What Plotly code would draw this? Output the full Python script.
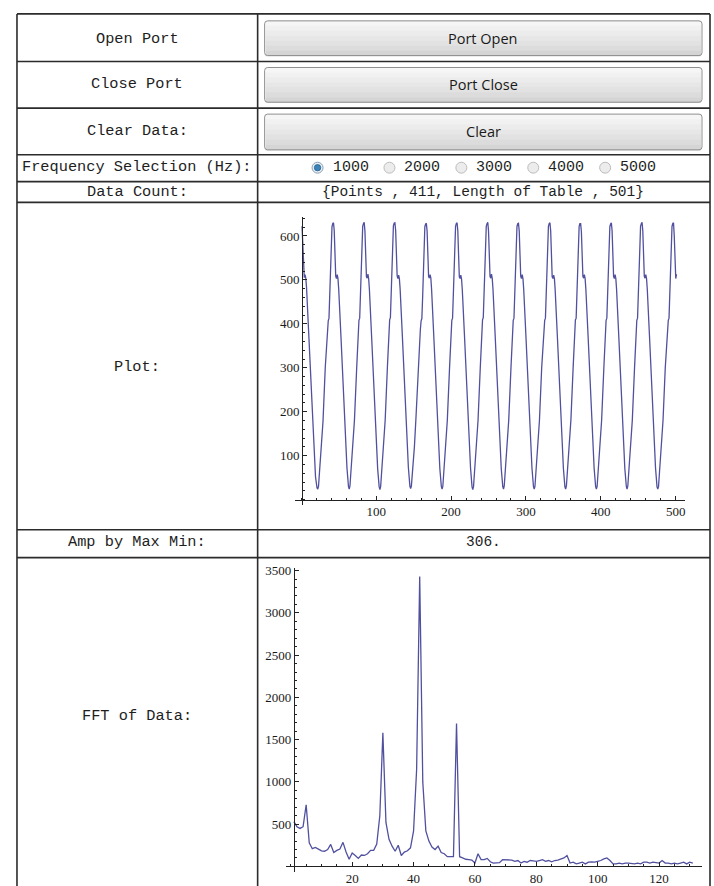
import plotly.graph_objects as go

W, H = 714, 886

# ---------------- data ----------------
row_labels = ["Open Port", "Close Port", "Clear Data:", "Frequency Selection (Hz):",
              "Data Count:", "Plot:", "Amp by Max Min:", "FFT of Data:"]
button_labels = ["Port Open", "Port Close", "Clear"]
freq_options = ["1000", "2000", "3000", "4000", "5000"]
selected_freq = "1000"
data_count_text = "{Points , 411, Length of Table , 501}"
amp_text = "306."

wave_x = [
    1, 2, 3, 4, 5, 6, 7, 9, 13, 17, 19, 21, 22, 23, 25, 27, 29, 32, 35, 36, 37, 38, 39, 40, 41, 42,
    43, 44, 45, 46, 47, 48, 49, 50, 53, 57, 61, 63, 64, 65, 67, 69, 71, 74, 76, 77, 78, 79, 80, 81, 82, 83,
    84, 85, 86, 87, 88, 89, 90, 91, 94, 98, 102, 104, 105, 106, 108, 110, 112, 115, 117, 118, 119, 120, 121, 122, 123, 124,
    125, 126, 127, 128, 129, 130, 131, 132, 135, 139, 143, 145, 146, 147, 149, 151, 153, 156, 159, 160, 161, 162, 163, 164, 165, 166,
    167, 168, 169, 170, 171, 172, 173, 174, 177, 181, 185, 187, 188, 189, 191, 193, 195, 198, 200, 201, 202, 203, 204, 205, 206, 207,
    208, 209, 210, 211, 212, 213, 214, 215, 218, 222, 226, 228, 229, 230, 232, 234, 236, 239, 241, 242, 243, 244, 245, 246, 247, 248,
    249, 250, 251, 252, 253, 254, 255, 256, 259, 263, 267, 269, 270, 271, 273, 275, 277, 280, 282, 283, 284, 285, 286, 287, 288, 289,
    290, 291, 292, 293, 294, 295, 296, 297, 300, 304, 308, 310, 311, 312, 314, 316, 318, 321, 324, 325, 326, 327, 328, 329, 330, 331,
    332, 333, 334, 335, 336, 337, 338, 339, 342, 346, 350, 352, 353, 354, 356, 358, 360, 363, 365, 366, 367, 368, 369, 370, 371, 372,
    373, 374, 375, 376, 377, 378, 379, 380, 383, 387, 391, 393, 394, 395, 397, 399, 401, 404, 406, 407, 408, 409, 410, 411, 412, 413,
    414, 415, 416, 417, 418, 419, 420, 421, 424, 428, 432, 434, 435, 436, 438, 440, 442, 445, 447, 448, 449, 450, 451, 452, 453, 454,
    455, 456, 457, 458, 459, 460, 461, 462, 465, 469, 473, 475, 476, 477, 479, 481, 483, 486, 489, 490, 491, 492, 493, 494, 495, 496,
    497, 498, 499, 500, 501,
]
wave_y = [
    622, 585, 528, 505, 512, 504, 484, 412, 262, 112, 52, 27, 24, 30, 74, 117, 178, 300, 386, 407, 413, 462, 536, 596, 621, 628,
    630, 612, 556, 508, 503, 512, 503, 478, 370, 214, 72, 30, 24, 31, 75, 118, 181, 300, 386, 408, 413, 460, 535, 595, 622, 628,
    631, 611, 554, 507, 504, 513, 502, 477, 368, 216, 70, 29, 23, 30, 76, 117, 180, 302, 384, 409, 414, 461, 536, 596, 623, 629,
    630, 613, 557, 509, 503, 511, 503, 479, 371, 213, 73, 31, 25, 31, 74, 119, 182, 299, 387, 407, 412, 459, 534, 594, 621, 627,
    629, 611, 555, 508, 504, 512, 504, 478, 369, 215, 71, 30, 24, 30, 75, 118, 181, 301, 385, 408, 413, 460, 535, 595, 622, 628,
    630, 612, 556, 507, 503, 511, 502, 477, 370, 214, 72, 29, 23, 30, 76, 118, 180, 300, 386, 409, 414, 461, 536, 596, 622, 628,
    631, 612, 555, 508, 504, 513, 503, 478, 369, 215, 71, 30, 24, 31, 75, 117, 181, 301, 385, 408, 413, 460, 535, 595, 622, 628,
    629, 611, 556, 508, 503, 512, 503, 478, 370, 214, 72, 30, 24, 30, 75, 118, 180, 300, 386, 408, 413, 460, 535, 595, 622, 628,
    630, 612, 555, 507, 503, 511, 503, 477, 369, 215, 71, 29, 24, 31, 76, 118, 181, 301, 385, 409, 413, 461, 536, 596, 622, 628,
    628, 610, 554, 508, 504, 512, 503, 478, 370, 214, 72, 30, 24, 30, 75, 117, 180, 300, 386, 408, 413, 460, 535, 594, 621, 627,
    630, 612, 556, 508, 503, 512, 503, 478, 369, 215, 71, 30, 24, 31, 75, 118, 181, 301, 385, 408, 413, 460, 535, 595, 622, 628,
    631, 612, 555, 508, 504, 512, 503, 478, 370, 214, 72, 29, 24, 30, 75, 118, 180, 300, 386, 408, 413, 460, 535, 596, 622, 628,
    630, 600, 545, 503, 513,
]

fft_x = list(range(1, 132))
fft_y = [
    530, 470, 450, 470, 730, 280, 210, 225, 205, 185,
    180, 200, 260, 165, 190, 205, 285, 170, 85, 160,
    130, 95, 135, 130, 150, 190, 190, 265, 600, 1580,
    520, 320, 240, 180, 250, 130, 170, 185, 220, 420,
    1150, 3430, 1000, 420, 300, 230, 200, 240, 165, 150,
    115, 115, 115, 1690, 115, 100, 85, 80, 75, 40,
    150, 80, 80, 95, 55, 40, 45, 45, 80, 80,
    80, 75, 60, 70, 40, 60, 50, 70, 65, 60,
    70, 80, 60, 70, 55, 70, 75, 90, 100, 130,
    40, 50, 30, 40, 50, 30, 50, 55, 50, 60,
    70, 90, 100, 70, 30, 30, 40, 30, 40, 40,
    35, 30, 40, 30, 50, 50, 40, 50, 45, 40,
    70, 40, 40, 30, 40, 30, 40, 50, 30, 50,
    40,
]

wave_yticks = [100, 200, 300, 400, 500, 600]
wave_xticks = [100, 200, 300, 400, 500]
fft_yticks = [500, 1000, 1500, 2000, 2500, 3000, 3500]
fft_xticks = [20, 40, 60, 80, 100, 120]

# ---------------- helpers (pixel -> paper) ----------------
def px(x):
    return x / W

def py(y):
    return 1 - y / H

LINE = "#2b2b2b"
TRACE = "#50509f"
MONO = "Liberation Mono, Courier New, monospace"

fig = go.Figure()
fig.add_trace(go.Scatter(x=wave_x, y=wave_y, mode="lines",
                         line=dict(color=TRACE, width=1.3),
                         xaxis="x", yaxis="y", hoverinfo="skip"))
fig.add_trace(go.Scatter(x=fft_x, y=fft_y, mode="lines",
                         line=dict(color=TRACE, width=1.3),
                         xaxis="x2", yaxis="y2", hoverinfo="skip"))

shapes = []
annotations = []

# table grid
rows_y = [10, 58, 105, 152, 179, 200, 530, 558]
xl, xm, xr = 17, 258, 711
for yy in rows_y:
    shapes.append(dict(type="line", xref="paper", yref="paper",
                       x0=px(xl), x1=px(xr), y0=py(yy), y1=py(yy),
                       line=dict(color=LINE, width=1.6)))
for xx in (xl, xm, xr):
    shapes.append(dict(type="line", xref="paper", yref="paper",
                       x0=px(xx), x1=px(xx), y0=py(10), y1=py(H + 5),
                       line=dict(color=LINE, width=1.6)))

# row labels
label_y = [35, 81, 128, 164, 189, 366, 542, 718]
for lab, yy in zip(row_labels, label_y):
    annotations.append(dict(xref="paper", yref="paper", x=px((xl + xm) / 2), y=py(yy),
                            text=lab, showarrow=False, xanchor="center", yanchor="middle",
                            font=dict(family=MONO, size=15.3, color="#1e1e1e")))

# buttons with a faux vertical gradient
btn_rows = [(17, 52), (64, 99), (111, 147)]
bx0, bx1 = 265, 703
grad = ["#f6f6f6", "#f1f1f1", "#ececec", "#e7e7e7", "#e2e2e2", "#dcdcdc", "#d5d5d5"]
for (t, b), lab in zip(btn_rows, button_labels):
    n = len(grad)
    h = (b - t) / n
    for i, c in enumerate(grad):
        shapes.append(dict(type="rect", xref="paper", yref="paper",
                           x0=px(bx0 + 1), x1=px(bx1 - 1),
                           y0=py(t + i * h), y1=py(t + (i + 1) * h + 0.6),
                           line=dict(width=0), fillcolor=c, layer="below"))
    r = 3
    path = (f"M {px(bx0 + r)},{py(t)} L {px(bx1 - r)},{py(t)} "
            f"Q {px(bx1)},{py(t)} {px(bx1)},{py(t + r)} "
            f"L {px(bx1)},{py(b - r)} Q {px(bx1)},{py(b)} {px(bx1 - r)},{py(b)} "
            f"L {px(bx0 + r)},{py(b)} Q {px(bx0)},{py(b)} {px(bx0)},{py(b - r)} "
            f"L {px(bx0)},{py(t + r)} Q {px(bx0)},{py(t)} {px(bx0 + r)},{py(t)} Z")
    shapes.append(dict(type="path", xref="paper", yref="paper", path=path,
                       line=dict(color="#8e8e8e", width=1), fillcolor="rgba(0,0,0,0)"))
    annotations.append(dict(xref="paper", yref="paper", x=px((bx0 + bx1) / 2), y=py((t + b) / 2),
                            text=lab, showarrow=False, xanchor="center", yanchor="middle",
                            font=dict(family="Open Sans, Noto Sans, sans-serif", size=14.5,
                                      color="#1a1a1a")))

# radio buttons
radio_cx = [318, 390, 462, 534, 606]
ry = 165
for cx, lab in zip(radio_cx, freq_options):
    sel = lab == selected_freq
    shapes.append(dict(type="circle", xref="paper", yref="paper",
                       x0=px(cx - 5.5), x1=px(cx + 5.5), y0=py(ry + 5.5), y1=py(ry - 5.5),
                       line=dict(color="#8aa0b4" if sel else "#bcbcbc", width=1),
                       fillcolor="#e9eef3" if sel else "#ececec"))
    if sel:
        shapes.append(dict(type="circle", xref="paper", yref="paper",
                           x0=px(cx - 3.2), x1=px(cx + 3.2), y0=py(ry + 3.2), y1=py(ry - 3.2),
                           line=dict(color="#1f5f8f", width=0.8), fillcolor="#3c84b8"))
    annotations.append(dict(xref="paper", yref="paper", x=px(cx + 13), y=py(ry),
                            text=lab, showarrow=False, xanchor="left", yanchor="middle",
                            font=dict(family=MONO, size=15, color="#1e1e1e")))

# text cells
annotations.append(dict(xref="paper", yref="paper", x=px(484), y=py(190),
                        text=data_count_text, showarrow=False, xanchor="center", yanchor="middle",
                        font=dict(family=MONO, size=14.5, color="#1e1e1e")))
annotations.append(dict(xref="paper", yref="paper", x=px(484), y=py(542),
                        text=amp_text, showarrow=False, xanchor="center", yanchor="middle",
                        font=dict(family=MONO, size=14.5, color="#1e1e1e")))

# ---------------- axes geometry ----------------
# wave plot: 0.75 px per x unit, x=1 at px 302.45 ; 0.443 px per y unit, y=0 at px 499.6
w_xr = [-8, 512]
w_yr = [-12, 644]
w_xdom = [px(302.45 + (w_xr[0] - 1) * 0.75), px(302.45 + (w_xr[1] - 1) * 0.75)]
w_ydom = [py(499.6 - w_yr[0] * 0.443), py(499.6 - w_yr[1] * 0.443)]
# fft plot: 3.073 px per x unit, x=1 at px 294.3 ; 0.0852 px per y unit, y=0 at px 869.3
f_xr = [-1.5, 134]
f_yr = [-60, 3536]
f_xdom = [px(294.3 + (f_xr[0] - 1) * 3.073), px(294.3 + (f_xr[1] - 1) * 3.073)]
f_ydom = [py(869.3 - f_yr[0] * 0.0852), py(869.3 - f_yr[1] * 0.0852)]

tickfont = dict(family="Liberation Serif, Times New Roman, serif", size=13, color="#1a1a1a")

def xaxis(rng, dom, ticks, minor_dt, ypos):
    return dict(range=rng, domain=dom, anchor="free", position=ypos,
                showline=True, linecolor="#222", linewidth=1, showgrid=False,
                zeroline=False, ticks="inside", ticklen=4, tickwidth=1, tickcolor="#222",
                tickvals=ticks, tickfont=tickfont,
                minor=dict(ticks="inside", ticklen=2, dtick=minor_dt, tick0=0,
                           tickcolor="#222", showgrid=False))

def yaxis(rng, dom, ticks, minor_dt, xpos):
    return dict(range=rng, domain=dom, anchor="free", position=xpos,
                showline=True, linecolor="#222", linewidth=1, showgrid=False,
                zeroline=False, ticks="inside", ticklen=4, tickwidth=1, tickcolor="#222",
                tickvals=ticks, tickfont=tickfont,
                minor=dict(ticks="inside", ticklen=2, dtick=minor_dt, tick0=0,
                           tickcolor="#222", showgrid=False))

fig.update_layout(
    width=W, height=H,
    margin=dict(l=0, r=0, t=0, b=0),
    paper_bgcolor="white", plot_bgcolor="rgba(0,0,0,0)",
    showlegend=False,
    xaxis=xaxis(w_xr, w_xdom, wave_xticks, 20, py(499.6)),
    yaxis=yaxis(w_yr, w_ydom, wave_yticks, 20, px(302.45)),
    xaxis2=xaxis(f_xr, f_xdom, fft_xticks, 5, py(869.3)),
    yaxis2=yaxis(f_yr, f_ydom, fft_yticks, 100, px(294.3)),
    shapes=shapes,
    annotations=annotations,
)

fig.write_html("out.html", config={"displayModeBar": False},
               post_script="document.body.style.margin='0';document.body.style.overflow='hidden';")
